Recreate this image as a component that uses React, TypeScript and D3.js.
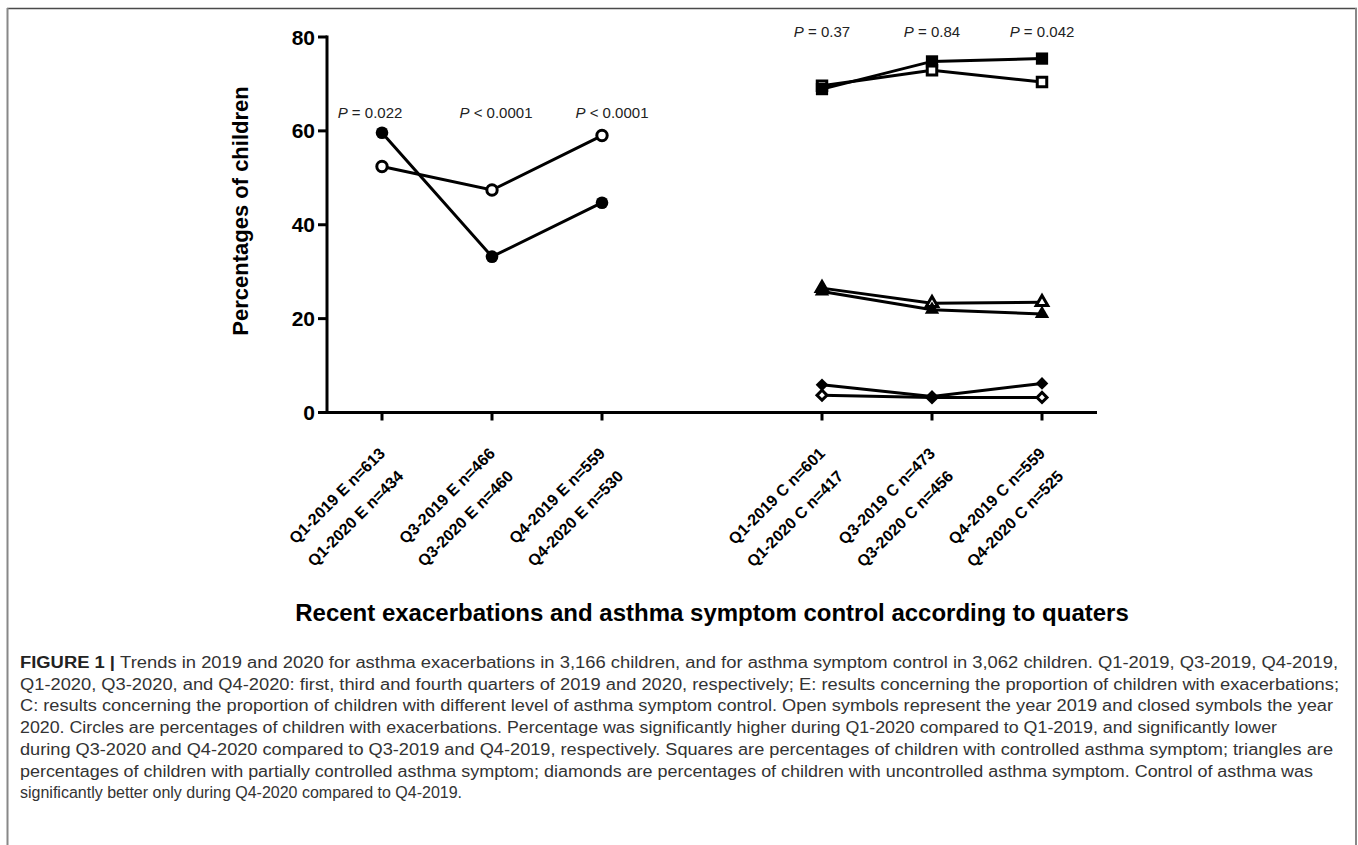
import React from "react";
import * as d3 from "d3";

// ---------- data ----------
const slots = ["Q1E", "Q3E", "Q4E", "gap", "Q1C", "Q3C", "Q4C"];
const exacSlots = ["Q1E", "Q3E", "Q4E"];
const ctrlSlots = ["Q1C", "Q3C", "Q4C"];
const tickSlots = ["Q1E", "Q3E", "Q4E", "Q1C", "Q3C", "Q4C"];
const tickLine1 = ["Q1-2019 E n=613", "Q3-2019 E n=466", "Q4-2019 E n=559", "Q1-2019 C n=601", "Q3-2019 C n=473", "Q4-2019 C n=559"];
const tickLine2 = ["Q1-2020 E n=434", "Q3-2020 E n=460", "Q4-2020 E n=530", "Q1-2020 C n=417", "Q3-2020 C n=456", "Q4-2020 C n=525"];
const yTicks = [0, 20, 40, 60, 80];

const exac2019 = [52.4, 47.4, 59.0];
const exac2020 = [59.6, 33.2, 44.7];
const controlled2019 = [69.6, 72.9, 70.4];
const controlled2020 = [68.9, 74.8, 75.4];
const partial2019 = [26.5, 23.3, 23.5];
const partial2020 = [25.8, 21.9, 21.0];
const uncontrolled2019 = [3.7, 3.2, 3.2];
const uncontrolled2020 = [5.9, 3.4, 6.2];

const pLeft = ["= 0.022", "< 0.0001", "< 0.0001"];
const pRight = ["= 0.37", "= 0.84", "= 0.042"];

const yTitle = "Percentages of children";
const xTitle = "Recent exacerbations and asthma symptom control according to quaters";
const captionLines = [
  "Trends in 2019 and 2020 for asthma exacerbations in 3,166 children, and for asthma symptom control in 3,062 children. Q1-2019, Q3-2019, Q4-2019,",
  "Q1-2020, Q3-2020, and Q4-2020: first, third and fourth quarters of 2019 and 2020, respectively; E: results concerning the proportion of children with exacerbations;",
  "C: results concerning the proportion of children with different level of asthma symptom control. Open symbols represent the year 2019 and closed symbols the year",
  "2020. Circles are percentages of children with exacerbations. Percentage was significantly higher during Q1-2020 compared to Q1-2019, and significantly lower",
  "during Q3-2020 and Q4-2020 compared to Q3-2019 and Q4-2019, respectively. Squares are percentages of children with controlled asthma symptom; triangles are",
  "percentages of children with partially controlled asthma symptom; diamonds are percentages of children with uncontrolled asthma symptom. Control of asthma was",
  "significantly better only during Q4-2020 compared to Q4-2019.",
];

// ---------- layout ----------
const W = 1358;
const H = 845;
const X0 = 327;
const X1 = 1097;
const Y0 = 412.5;
const Y1 = 37;
const captionEnds = [1338, 1339, 1333, 1277, 1333, 1313, 0];
const captionX = 20;
const captionY0 = 668;
const captionStep = 21.7;
const pLeftDx = [-12, 4, 10];
const FONT = "'Liberation Sans', Arial, Helvetica, sans-serif";

const x = d3.scalePoint<string>().domain(slots).range([X0, X1]).padding(0.5);
const y = d3.scaleLinear().domain([0, 80]).range([Y0, Y1]);
const line = d3
  .line<[string, number]>()
  .x((d) => x(d[0]) as number)
  .y((d) => y(d[1]));

type Series = { slots: string[]; values: number[]; shape: string; filled: boolean };
const series: Series[] = [
  { slots: exacSlots, values: exac2019, shape: "circle", filled: false },
  { slots: exacSlots, values: exac2020, shape: "circle", filled: true },
  { slots: ctrlSlots, values: controlled2019, shape: "square", filled: false },
  { slots: ctrlSlots, values: controlled2020, shape: "square", filled: true },
  { slots: ctrlSlots, values: partial2019, shape: "triangle", filled: false },
  { slots: ctrlSlots, values: partial2020, shape: "triangle", filled: true },
  { slots: ctrlSlots, values: uncontrolled2019, shape: "diamond", filled: false },
  { slots: ctrlSlots, values: uncontrolled2020, shape: "diamond", filled: true },
];

function symbolPath(shape: string, filled: boolean): { d: string; rot: number } {
  if (shape === "circle") return { d: d3.symbol(d3.symbolCircle, filled ? 125 : 85)() as string, rot: 0 };
  if (shape === "square") return { d: d3.symbol(d3.symbolSquare, filled ? 150 : 90)() as string, rot: 0 };
  if (shape === "triangle") return { d: d3.symbol(d3.symbolTriangle, filled ? 90 : 58)() as string, rot: 0 };
  return { d: d3.symbol(d3.symbolSquare, filled ? 80 : 50)() as string, rot: 45 };
}

export default function App() {
  return (
    <svg
      width={W}
      height={H}
      style={{ position: "absolute", left: 0, top: 0, display: "block", background: "#fff" }}
      fontFamily={FONT}
    >
      <rect x={0} y={0} width={W} height={H} fill="#fff" />
      {/* frame */}
      <line x1={7} x2={1357} y1={8.5} y2={8.5} stroke="#4a4a4a" strokeWidth={1.5} />
      <line x1={7.5} x2={7.5} y1={8} y2={H} stroke="#888" strokeWidth={2} />
      <line x1={1356} x2={1356} y1={8} y2={H} stroke="#888" strokeWidth={2} />

      {/* axes */}
      <line x1={X0} x2={X0} y1={Y1 - 1.5} y2={Y0 + 1.5} stroke="#000" strokeWidth={3} />
      <line x1={X0 - 1.5} x2={X1} y1={Y0} y2={Y0} stroke="#000" strokeWidth={3} />
      {yTicks.map((t) => (
        <g key={t}>
          <line x1={X0 - 9} x2={X0} y1={y(t)} y2={y(t)} stroke="#000" strokeWidth={3} />
          <text x={X0 - 12} y={y(t)} dy="0.36em" textAnchor="end" fontSize={21} fontWeight="bold" fill="#000">
            {t}
          </text>
        </g>
      ))}
      {tickSlots.map((s, i) => (
        <g key={s}>
          <line x1={x(s)} x2={x(s)} y1={Y0} y2={Y0 + 8} stroke="#000" strokeWidth={3} />
          <g transform={`translate(${(x(s) as number) + 4},${Y0 + 42})rotate(-45)`}>
            <text x={0} y={0} textAnchor="end" fontSize={16} fontWeight="bold" fill="#000">
              {tickLine1[i]}
            </text>
            <text x={-3} y={29} textAnchor="end" fontSize={16} fontWeight="bold" fill="#000">
              {tickLine2[i]}
            </text>
          </g>
        </g>
      ))}

      {/* titles */}
      <text transform={`translate(248,211)rotate(-90)`} textAnchor="middle" fontSize={22} fontWeight="bold" fill="#000">
        {yTitle}
      </text>
      <text x={(X0 + X1) / 2} y={621} textAnchor="middle" fontSize={24} fontWeight="bold" fill="#000">
        {xTitle}
      </text>

      {/* p values */}
      {exacSlots.map((s, i) => (
        <text key={s} x={(x(s) as number) + pLeftDx[i]} y={118} textAnchor="middle" fontSize={15} fill="#222">
          <tspan fontStyle="italic">P</tspan> {pLeft[i]}
        </text>
      ))}
      {ctrlSlots.map((s, i) => (
        <text key={s} x={x(s)} y={37} textAnchor="middle" fontSize={15} fill="#222">
          <tspan fontStyle="italic">P</tspan> {pRight[i]}
        </text>
      ))}

      {/* lines */}
      {series.map((se, k) => (
        <path
          key={"l" + k}
          d={line(se.slots.map((s, i) => [s, se.values[i]] as [string, number])) as string}
          fill="none"
          stroke="#000"
          strokeWidth={3}
        />
      ))}
      {/* symbols */}
      {series.map((se, k) => {
        const sp = symbolPath(se.shape, se.filled);
        return (
          <g key={"s" + k}>
            {se.slots.map((s, i) => (
              <path
                key={s}
                d={sp.d}
                transform={`translate(${x(s)},${y(se.values[i])})rotate(${sp.rot})`}
                fill={se.filled ? "#000" : "#fff"}
                stroke="#000"
                strokeWidth={se.filled ? 0 : 3}
              />
            ))}
          </g>
        );
      })}

      {/* caption */}
      {captionLines.map((ln, i) => {
        const yy = captionY0 + i * captionStep;
        const fit = captionEnds[i] > 0 ? { textLength: captionEnds[i] - captionX, lengthAdjust: "spacingAndGlyphs" } : {};
        return (
          <text key={i} x={captionX} y={yy} fontSize={16} fill="#333" {...fit}>
            {i === 0 ? (
              <tspan fontWeight="bold" fill="#222">
                FIGURE 1 |{" "}
              </tspan>
            ) : null}
            {ln}
          </text>
        );
      })}
    </svg>
  );
}
